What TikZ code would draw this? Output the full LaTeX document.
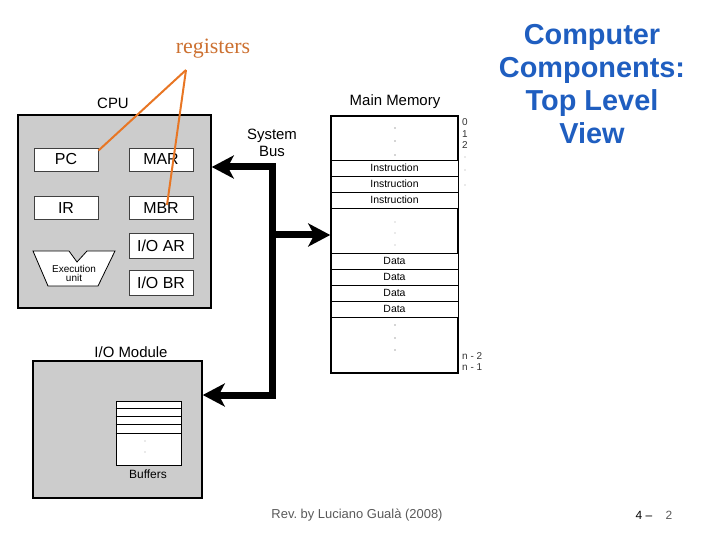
\documentclass[tikz,border=0pt]{standalone}
\usepackage{fontspec}
\setmainfont{Liberation Sans}
\newfontfamily\regserif{Liberation Serif}
\usetikzlibrary{arrows.meta}
\definecolor{boxgray}{RGB}{204,204,204}
\definecolor{titleblue}{RGB}{31,94,192}
\definecolor{regorange}{RGB}{232,118,36}
\definecolor{regtext}{RGB}{204,112,48}
\newcommand{\fsz}[1]{\fontsize{#1}{#1}\selectfont}
\tikzset{
	unit/.style={draw=black, line width=1.5bp, fill=boxgray, inner sep=0pt},
	register/.style={draw=black!75, line width=0.8bp, fill=white, minimum width=64bp, minimum height=23bp, inner sep=0pt, font=\fsz{16}},
	memcell/.style={draw=black, line width=0.8bp, fill=white, minimum width=127bp, minimum height=16bp, inner sep=0pt, font=\fsz{10.5}},
	title/.style={font=\fsz{15}, inner sep=0pt},
	addr/.style={font=\fsz{10}, anchor=west, inner sep=0pt, text=black!80},
	bus/.style={line width=7bp, line join=miter, >={Stealth[length=22bp,width=23bp,inset=6bp]}},
	regline/.style={draw=regorange, line width=2bp}
}
\begin{document}
\begin{tikzpicture}[x=1bp, y=-1bp]
			\useasboundingbox (0, 0) rectangle (720, 540);
			% CPU
			\node [unit, minimum width=193bp, minimum height=193bp] (cpu) at (114.5, 211.5) {};
			\node [title] (cpulbl) at (113, 103) {CPU};
			\node [register] (pc) at (66, 159.5) {PC};
			\node [register] (mar) at (161, 159.5) {MAR};
			\node [register] (ir) at (66, 208) {IR};
			\node [register] (mbr) at (161, 208) {MBR};
			\node [register, minimum height=25bp] (ioar) at (161, 245.5) {I/O AR};
			\node [register, minimum height=25bp] (iobr) at (161, 283) {I/O BR};
			\draw [fill=white, line width=0.8bp] (33, 251) -- (69, 251) -- (77, 262) -- (87, 251) -- (115, 251) -- (98, 286) -- (48, 286) -- cycle;
			\node [font=\fsz{10}, align=center, inner sep=0pt] (exu) at (74, 273) {Execution\\[-1bp]unit};
			% main memory
			\node [unit, fill=white, minimum width=127bp, minimum height=257bp] (mem) at (394.5, 244.5) {};
			\node [title] (memlbl) at (395, 102) {Main Memory};
			\node [memcell] (ins1) at (394.5, 168) {Instruction};
			\node [memcell] (ins2) at (394.5, 184) {Instruction};
			\node [memcell] (ins3) at (394.5, 200) {Instruction};
			\draw [line width=1.6bp] (ins3.south west) -- (ins3.south east);
			\node [memcell] (dat1) at (394.5, 261) {Data};
			\node [memcell] (dat2) at (394.5, 277) {Data};
			\node [memcell] (dat3) at (394.5, 293) {Data};
			\node [memcell] (dat4) at (394.5, 309) {Data};
			\fill [black!70] (395, 128) circle (0.7) (395, 141) circle (0.7) (395, 155) circle (0.7);
			\fill [black!35] (395, 222) circle (0.6) (395, 233) circle (0.6) (395, 245) circle (0.6);
			\fill [black!70] (395, 325) circle (0.7) (395, 338) circle (0.7) (395, 350) circle (0.7);
			\node [addr] (a0) at (462, 122) {0};
			\node [addr] (a1) at (462, 134) {1};
			\node [addr] (a2) at (462, 145) {2};
			\fill [black!35] (465, 157) circle (0.6) (465, 170) circle (0.6) (465, 185) circle (0.6);
			\node [addr] (an2) at (462, 356) {n - 2};
			\node [addr] (an1) at (462, 367) {n - 1};
			% I/O module
			\node [unit, minimum width=169bp, minimum height=137bp] (io) at (117.5, 429.5) {};
			\node [title] (iolbl) at (131, 352) {I/O Module};
			\node [draw=black, line width=1bp, fill=white, minimum width=65bp, minimum height=64bp, inner sep=0pt] (buf) at (148.5, 433) {};
			\draw [line width=1.8bp] ([yshift=-8bp]buf.north west) -- ([yshift=-8bp]buf.north east);
			\draw [line width=1.8bp] ([yshift=-16bp]buf.north west) -- ([yshift=-16bp]buf.north east);
			\draw [line width=1.8bp] ([yshift=-24bp]buf.north west) -- ([yshift=-24bp]buf.north east);
			\draw [line width=0.8bp] ([yshift=-33bp]buf.north west) -- ([yshift=-33bp]buf.north east);
			\fill [black!35] (145, 441) circle (0.6) (145, 452) circle (0.6);
			\node [font=\fsz{12}, inner sep=0pt] (buflbl) at (148, 474) {Buffers};
			% system bus
			\coordinate (bustop) at (272, 167);
			\coordinate (busmid) at (272, 235);
			\coordinate (busbot) at (272, 395);
			\draw [bus, <->] (cpu.east |- bustop) -- (bustop) -- (busbot) -- (io.east |- busbot);
			\draw [bus, ->] (busmid) -- (mem.west |- busmid);
			\node [title, align=center] (buslbl) at (272, 143) {System\\[2bp]Bus};
			% registers
			\node [font=\regserif\fsz{22}, text=regtext, inner sep=0pt] (regs) at (213, 49) {registers};
			\coordinate (regtip) at (186, 70);
			\draw [regline] (regtip) -- ([yshift=-3bp]pc.north east);
			\draw [regline] (regtip) -- ([xshift=6bp, yshift=3bp]mbr.center);
			% title and footer
			\node [font=\bfseries\fsz{29}, text=titleblue, align=center, inner sep=0pt] (head) at (592, 84) {Computer\\[4bp]Components:\\[4bp]Top Level\\[4bp]View};
			\node [font=\fsz{13}, text=black!65, inner sep=0pt] (rev) at (357, 515) {Rev.\ by Luciano Gualà (2008)};
			\node [font=\fsz{12}, inner sep=0pt] (pg) at (644, 515) {4 –};
			\node [font=\fsz{12}, text=black!65, inner sep=0pt] (pgn) at (669, 515) {2};
		\end{tikzpicture}
\end{document}
